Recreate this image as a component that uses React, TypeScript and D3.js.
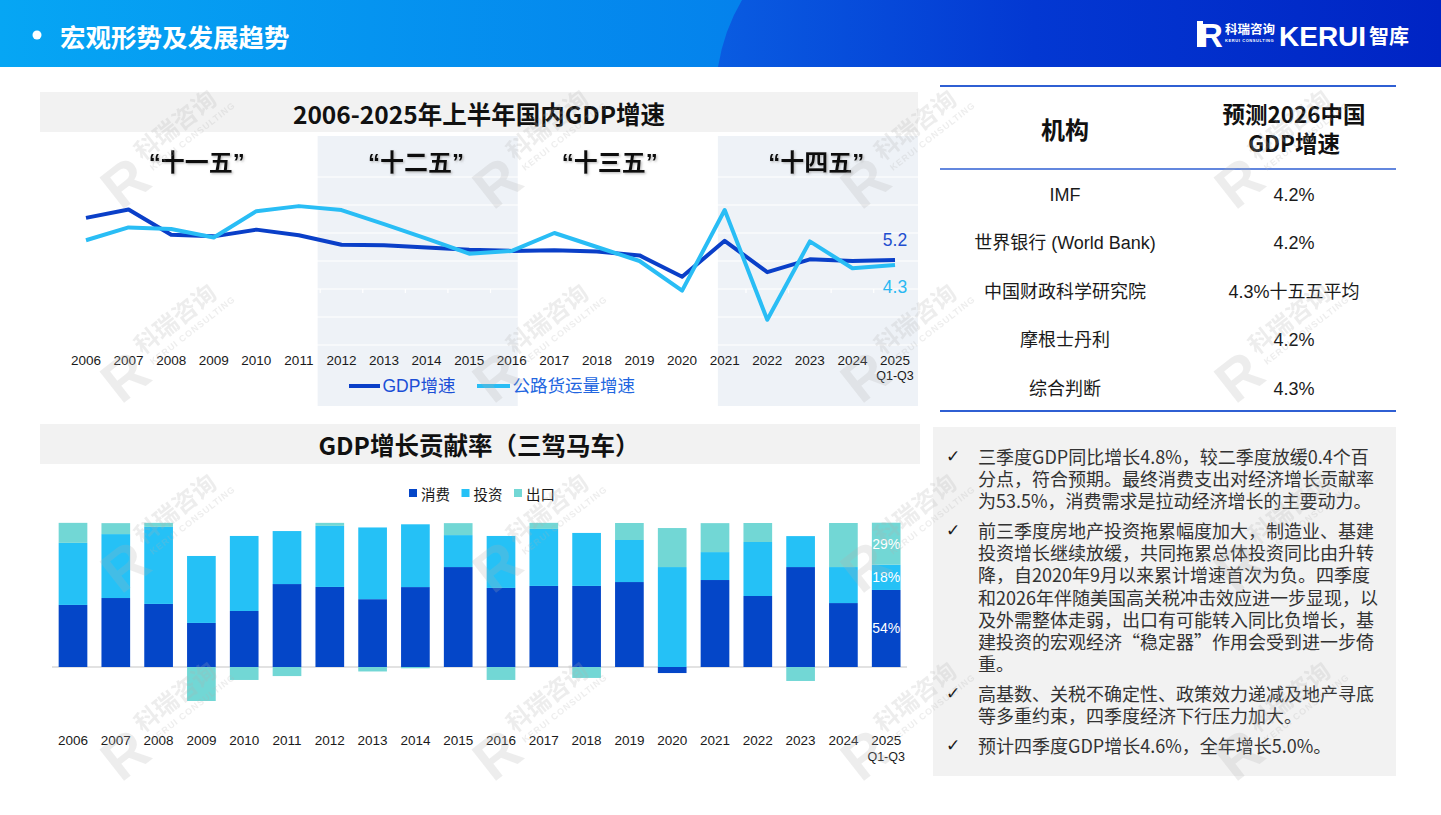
import React from "react";
import * as d3 from "d3";

// ---------------- DATA ----------------
const years = ["2006","2007","2008","2009","2010","2011","2012","2013","2014","2015","2016","2017","2018","2019","2020","2021","2022","2023","2024","2025"];
const gdpGrowth = [12.7,14.2,9.7,9.4,10.6,9.6,7.9,7.8,7.4,7.0,6.8,6.9,6.7,6.0,2.2,8.6,3.0,5.3,5.0,5.2];
const roadFreightGrowth = [8.7,11.0,10.7,9.2,13.9,14.8,14.1,11.6,9.0,6.3,6.8,10.0,7.5,5.0,-0.3,14.1,-5.5,8.5,3.7,4.3];
const lineGridValues = [-10,-5,0,5,10,15,20];
const planLabels = ["“十一五”","“十二五”","“十三五”","“十四五”"];
const planCenters = [2008.6, 2013.75, 2018.3, 2023.15];
const shadedPlanSpans = [[2011.44, 2016.14],[2020.84, 2025.54]];

const consumptionShare = [43.1,47.9,43.8,30.6,38.9,57.6,55.6,47.1,55.5,69.4,54.9,56.3,56.3,59.0,-4.2,60.4,49.3,69.4,44.4,53.5];
const investmentShare = [43.1,44.4,53.5,46.5,52.1,36.8,42.4,49.8,43.6,22.2,36.1,39.6,36.8,29.2,69.4,19.4,37.5,21.5,25.0,17.5];
const exportShare = [13.9,7.6,2.8,-23.6,-9.0,-6.3,2.1,-3.1,-0.9,8.3,-9.0,4.2,-7.6,11.8,27.1,20.1,13.2,-9.7,30.6,29.2];
const barKeys = ["consumption","investment","exports"];
const barKeyLabels = ["消费","投资","出口"];
const barColors = ["#0446c8","#25c1f6","#72d7d5"];

const tableHeader = ["机构", "预测2026中国", "GDP增速"];
const institutions = ["IMF","世界银行 (World Bank)","中国财政科学研究院","摩根士丹利","综合判断"];
const forecasts = ["4.2%","4.2%","4.3%十五五平均","4.2%","4.3%"];

const bulletParagraphs = [
  ["三季度GDP同比增长4.8%，较二季度放缓0.4个百","分点，符合预期。最终消费支出对经济增长贡献率","为53.5%，消费需求是拉动经济增长的主要动力。"],
  ["前三季度房地产投资拖累幅度加大，制造业、基建","投资增长继续放缓，共同拖累总体投资同比由升转","降，自2020年9月以来累计增速首次为负。四季度","和2026年伴随美国高关税冲击效应进一步显现，以","及外需整体走弱，出口有可能转入同比负增长，基","建投资的宏观经济“稳定器”作用会受到进一步倚","重。"],
  ["高基数、关税不确定性、政策效力递减及地产寻底","等多重约束，四季度经济下行压力加大。"],
  ["预计四季度GDP增长4.6%，全年增长5.0%。"],
];

const watermarkXs = [128, 500, 868, 1242];
const watermarkYs = [178, 372, 562, 750];

const W = 1441, H = 815;
const LATIN = "'Liberation Sans', Arial, 'Noto Sans CJK SC', sans-serif";
const CJK = "'Noto Sans CJK SC', 'Liberation Sans', sans-serif";

function Watermark({ x, y }: { x: number; y: number }) {
  return (
    <g transform={`translate(${x},${y}) rotate(-38)`} opacity={0.22} fill="#b0b0b0" style={{ pointerEvents: "none" }}>
      <text x={-26} y={22} fontSize={58} fontWeight={900} fontFamily={LATIN}>R</text>
      <text x={22} y={-4} fontSize={24} fontWeight={700} fontFamily={CJK}>科瑞咨询</text>
      <text x={24} y={10} fontSize={9} fontWeight={700} fontFamily={LATIN} letterSpacing={1}>KERUI CONSULTING</text>
    </g>
  );
}

export default function App() {
  // ---------- top line chart ----------
  const xTop = d3.scaleBand<string>().domain(years).range([64.7, 916.3]);
  const xTopCont = d3.scaleLinear().domain([2005.5, 2025.5]).range([64.7, 916.3]);
  const yTop = d3.scaleLinear().domain([-10, 20]).range([345, 177]);
  const cxTop = (yr: string) => (xTop(yr) as number) + xTop.bandwidth() / 2;
  const lineGen = d3.line<number>().x((_, i) => cxTop(years[i])).y((d) => yTop(d));
  const gdpPath = lineGen(gdpGrowth) || "";
  const roadPath = lineGen(roadFreightGrowth) || "";
  const lastYear = years[years.length - 1];

  // ---------- bottom bar chart ----------
  const xBar = d3.scaleBand<string>().domain(years).range([51.6, 907.6]).paddingInner(0.33).paddingOuter(0.165);
  const yBar = d3.scaleLinear().domain([0, 100]).range([667, 523]);
  const barRows = years.map((yr, i) => ({ year: yr, consumption: consumptionShare[i], investment: investmentShare[i], exports: exportShare[i] }));
  const stacked = d3.stack<any>().keys(barKeys).offset(d3.stackOffsetDiverging)(barRows);

  return (
    <div style={{ position: "absolute", left: 0, top: 0, width: W, height: H, background: "#fff" }}>
      <svg width={W} height={H} viewBox={`0 0 ${W} ${H}`} style={{ display: "block" }}>
        <defs>
          <linearGradient id="hdrDark" gradientUnits="userSpaceOnUse" x1="700" x2="1441" y1="0" y2="0">
            <stop offset="0" stopColor="#0a5ee2" />
            <stop offset="0.45" stopColor="#0338d2" />
            <stop offset="1" stopColor="#0024c4" />
          </linearGradient>
          <linearGradient id="hdrLight" gradientUnits="userSpaceOnUse" x1="0" x2="740" y1="0" y2="0">
            <stop offset="0" stopColor="#06a6f4" />
            <stop offset="1" stopColor="#0482ec" />
          </linearGradient>
          <filter id="lblShadow" x="-10%" y="-20%" width="130%" height="150%">
            <feDropShadow dx="1.2" dy="1.2" stdDeviation="0.8" floodColor="#8c8c8c" floodOpacity="0.6" />
          </filter>
        </defs>

        {/* ---------- header ---------- */}
        <rect x={0} y={0} width={W} height={67} fill="url(#hdrDark)" />
        <path d="M0,0 L742,0 Q724,30 718,67 L0,67 Z" fill="url(#hdrLight)" />
        <circle cx={37} cy={35} r={4.5} fill="#fff" />
        <text x={60} y={35} dominantBaseline="central" fill="#fff" fontSize={25.5} fontWeight={700} fontFamily={CJK}>宏观形势及发展趋势</text>
        <g fill="#fff">
          <rect x={1197} y={21} width={6} height={26} />
          <text x={1199} y={47} fontSize={33} fontWeight={900} fontFamily={LATIN}>R</text>
          <text x={1225} y={34} fontSize={12.5} fontWeight={700} fontFamily={CJK}>科瑞咨询</text>
          <text x={1225} y={42} fontSize={4} fontWeight={700} fontFamily={LATIN} letterSpacing={0.6}>KERUI CONSULTING</text>
          <text x={1279} y={46} fontSize={28} fontWeight={900} fontFamily={LATIN}>KERUI</text>
          <text x={1369} y={44} fontSize={20} fontWeight={700} fontFamily={CJK}>智库</text>
        </g>

        {/* ---------- top chart ---------- */}
        <rect x={40} y={92} width={878} height={40} fill="#f2f2f2" />
        <text x={479} y={113} textAnchor="middle" dominantBaseline="central" fontSize={24.5} fontWeight={700} fontFamily={CJK} fill="#111">2006-2025年上半年国内GDP增速</text>
        {shadedPlanSpans.map((s, i) => (
          <rect key={i} x={xTopCont(s[0])} y={136} width={Math.min(918, xTopCont(s[1])) - xTopCont(s[0])} height={270} fill="#eef2f7" />
        ))}
        {lineGridValues.map((v) => (
          <line key={v} x1={64.7} x2={918} y1={yTop(v)} y2={yTop(v)} stroke="#fff" strokeWidth={1.2} />
        ))}
        {years.slice(1).map((yr) => (
          <line key={yr} x1={xTop(yr) as number} x2={xTop(yr) as number} y1={yTop(0)} y2={yTop(0) + 4} stroke="#fff" strokeWidth={1.2} />
        ))}
        {planLabels.map((l, i) => (
          <text key={l} x={xTopCont(planCenters[i])} y={162} textAnchor="middle" dominantBaseline="central" fontSize={24} fontWeight={700} fontFamily={LATIN} fill="#111" filter="url(#lblShadow)">{l}</text>
        ))}
        <path d={gdpPath} fill="none" stroke="#0a3fc8" strokeWidth={4} strokeLinejoin="round" />
        <path d={roadPath} fill="none" stroke="#29bdf5" strokeWidth={4} strokeLinejoin="round" />
        <text x={cxTop(lastYear)} y={240} textAnchor="middle" dominantBaseline="central" fontSize={17.5} fontFamily={LATIN} fill="#1f4fd0">{gdpGrowth[gdpGrowth.length - 1].toFixed(1)}</text>
        <text x={cxTop(lastYear)} y={287} textAnchor="middle" dominantBaseline="central" fontSize={17.5} fontFamily={LATIN} fill="#2ab8f2">{roadFreightGrowth[roadFreightGrowth.length - 1].toFixed(1)}</text>
        {years.map((yr) => (
          <text key={yr} x={cxTop(yr)} y={360} textAnchor="middle" dominantBaseline="central" fontSize={13.5} fontFamily={LATIN} fill="#1a1a1a">{yr}</text>
        ))}
        <text x={cxTop(lastYear)} y={376} textAnchor="middle" dominantBaseline="central" fontSize={12.5} fontFamily={LATIN} fill="#1a1a1a">Q1-Q3</text>
        <line x1={349} x2={380} y1={386} y2={386} stroke="#0a3fc8" strokeWidth={4} />
        <text x={382.5} y={386} dominantBaseline="central" fontSize={17.5} fontFamily={LATIN} fill="#1b4fd6">GDP增速</text>
        <line x1={477} x2={510} y1={386} y2={386} stroke="#29bdf5" strokeWidth={4} />
        <text x={512.5} y={386} dominantBaseline="central" fontSize={17.5} fontFamily={LATIN} fill="#2266e0">公路货运量增速</text>

        {/* ---------- table ---------- */}
        <line x1={940} x2={1396} y1={86} y2={86} stroke="#2f5fd3" strokeWidth={2} />
        <line x1={940} x2={1396} y1={169} y2={169} stroke="#2f5fd3" strokeWidth={1.6} />
        <line x1={940} x2={1396} y1={411} y2={411} stroke="#2f5fd3" strokeWidth={2} />
        <text x={1065} y={128} textAnchor="middle" dominantBaseline="central" fontSize={24} fontWeight={700} fontFamily={CJK} fill="#111">{tableHeader[0]}</text>
        <text x={1294} y={113} textAnchor="middle" dominantBaseline="central" fontSize={22.5} fontWeight={700} fontFamily={CJK} fill="#111">{tableHeader[1]}</text>
        <text x={1294} y={142} textAnchor="middle" dominantBaseline="central" fontSize={22.5} fontWeight={700} fontFamily={CJK} fill="#111">{tableHeader[2]}</text>
        {institutions.map((name, i) => (
          <g key={name}>
            <text x={1065} y={195 + i * 48.4} textAnchor="middle" dominantBaseline="central" fontSize={18} fontFamily={LATIN} fill="#1a1a1a">{name}</text>
            <text x={1294} y={195 + i * 48.4} textAnchor="middle" dominantBaseline="central" fontSize={18} fontFamily={LATIN} fill="#1a1a1a">{forecasts[i]}</text>
          </g>
        ))}

        {/* ---------- bottom chart ---------- */}
        <rect x={40} y={424} width={880} height={40} fill="#f2f2f2" />
        <text x={479} y={444} textAnchor="middle" dominantBaseline="central" fontSize={24.5} fontWeight={700} fontFamily={CJK} fill="#111">GDP增长贡献率（三驾马车）</text>
        {barKeyLabels.map((l, i) => (
          <g key={l}>
            <rect x={409 + i * 52.5} y={489} width={8} height={8} fill={barColors[i]} />
            <text x={421 + i * 52.5} y={493} dominantBaseline="central" fontSize={14.5} fontFamily={CJK} fill="#1a1a1a">{l}</text>
          </g>
        ))}
        <line x1={52} x2={907} y1={yBar(0)} y2={yBar(0)} stroke="#d9d9d9" strokeWidth={1.5} />
        {stacked.map((s, si) => (
          <g key={s.key} fill={barColors[si]}>
            {s.map((d: any, i: number) => {
              const a = yBar(d[0]), b = yBar(d[1]);
              return <rect key={i} x={xBar(years[i]) as number} y={Math.min(a, b)} width={xBar.bandwidth()} height={Math.abs(a - b)} />;
            })}
          </g>
        ))}
        {stacked.map((s) => {
          const d: any = s[s.length - 1];
          const v = d[1] - d[0];
          return (
            <text key={"lbl" + s.key} x={(xBar(lastYear) as number) + xBar.bandwidth() / 2} y={(yBar(d[0]) + yBar(d[1])) / 2} textAnchor="middle" dominantBaseline="central" fontSize={14} fontFamily={LATIN} fill="#fff">{Math.round(v) + "%"}</text>
          );
        })}
        {years.map((yr) => (
          <text key={"b" + yr} x={(xBar(yr) as number) + xBar.bandwidth() / 2} y={740} textAnchor="middle" dominantBaseline="central" fontSize={13.5} fontFamily={LATIN} fill="#1a1a1a">{yr}</text>
        ))}
        <text x={(xBar(lastYear) as number) + xBar.bandwidth() / 2} y={757} textAnchor="middle" dominantBaseline="central" fontSize={12.5} fontFamily={LATIN} fill="#1a1a1a">Q1-Q3</text>

        {/* ---------- text panel ---------- */}
        <rect x={933} y={427} width={463} height={349} fill="#f2f2f2" />
        {(() => {
          const out: any[] = [];
          let y = 456;
          bulletParagraphs.forEach((p, pi) => {
            out.push(<text key={"c" + pi} x={946} y={y} dominantBaseline="central" fontSize={17} fontWeight={700} fontFamily="'DejaVu Sans', sans-serif" fill="#1a1a1a">✓</text>);
            p.forEach((line, li) => {
              out.push(<text key={pi + "-" + li} x={978} y={y + li * 22.2} dominantBaseline="central" fontSize={18} fontFamily={CJK} fill="#333">{line}</text>);
            });
            y += p.length * 22.2 + 7.4;
          });
          return out;
        })()}

        {/* ---------- watermarks ---------- */}
        {watermarkYs.map((wy) => watermarkXs.map((wx) => <Watermark key={wx + "-" + wy} x={wx} y={wy} />))}
      </svg>
    </div>
  );
}
